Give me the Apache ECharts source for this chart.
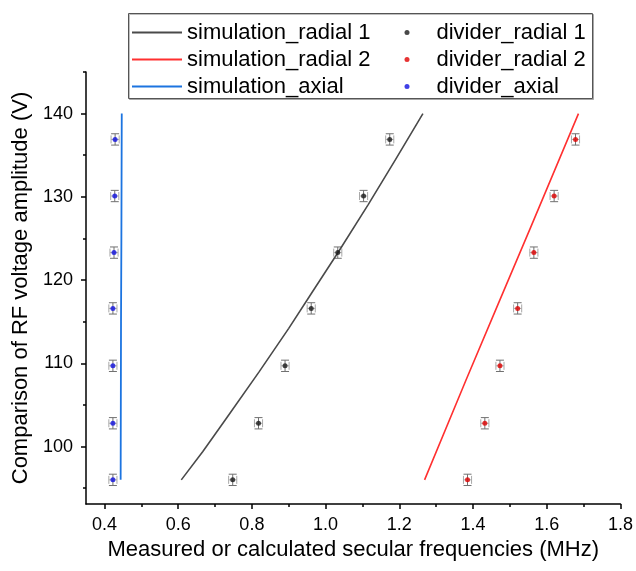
<!DOCTYPE html>
<html>
<head>
<meta charset="utf-8">
<script src="https://cdn.jsdelivr.net/npm/echarts@6/dist/echarts.min.js"></script>
<style>html,body{margin:0;padding:0;background:#fff}#c{width:636px;height:571px}</style>
</head>
<body>
<div id="c"></div>
<script>
// ---- data ----
const voltages = [96, 102.8, 109.7, 116.6, 123.3, 130.1, 136.9];
const dividerRadial1 = [0.748, 0.818, 0.890, 0.961, 1.033, 1.103, 1.174];
const dividerRadial2 = [1.385, 1.432, 1.473, 1.521, 1.565, 1.620, 1.678];
const dividerAxial = [0.423, 0.423, 0.423, 0.423, 0.426, 0.428, 0.429];
const freqErr = 0.011;
const voltErr = 0.68;
const simRadial1 = [[0.6085, 96], [0.667, 99.4], [0.73, 103.35], [0.82, 109.0], [0.90, 114.2], [0.96, 118.3], [1.035, 123.4], [1.116, 129.1], [1.19, 134.5], [1.264, 140]];
const simRadial2 = [[1.2685, 96], [1.381, 108.0], [1.466, 116.9], [1.556, 126.3], [1.686, 140]];
const simAxial = [[0.444, 96], [0.445, 115], [0.446, 125], [0.447, 140]];
const xMajorTicks = [0.4, 0.6, 0.8, 1.0, 1.2, 1.4, 1.6, 1.8];
const xMinorTicks = [0.5, 0.7, 0.9, 1.1, 1.3, 1.5, 1.7];
const yMajorTicks = [100, 110, 120, 130, 140];
const yMinorTicks = [95, 105, 115, 125, 135, 145];

const FONT = '"Liberation Sans", Arial, sans-serif';

function pts(xs) { return xs.map((x, i) => [x, voltages[i], freqErr, voltErr]); }

function errRender(params, api) {
  const x = api.value(0), y = api.value(1), ex = api.value(2), ey = api.value(3);
  const c = api.coord([x, y]);
  const top = api.coord([x, y + ey]);
  const bot = api.coord([x, y - ey]);
  const lft = api.coord([x - ex, y]);
  const rgt = api.coord([x + ex, y]);
  const cw = 4;
  const sV = { stroke: '#707070', lineWidth: 1 };
  const sH = { stroke: '#a8a8a8', lineWidth: 1 };
  return {
    type: 'group',
    children: [
      { type: 'line', shape: { x1: c[0], y1: top[1], x2: c[0], y2: bot[1] }, style: sV },
      { type: 'line', shape: { x1: c[0] - cw, y1: top[1], x2: c[0] + cw, y2: top[1] }, style: sV },
      { type: 'line', shape: { x1: c[0] - cw, y1: bot[1], x2: c[0] + cw, y2: bot[1] }, style: sV },
      { type: 'line', shape: { x1: lft[0], y1: c[1], x2: rgt[0], y2: c[1] }, style: sH },
      { type: 'line', shape: { x1: lft[0], y1: c[1] - cw, x2: lft[0], y2: c[1] + cw }, style: sH },
      { type: 'line', shape: { x1: rgt[0], y1: c[1] - cw, x2: rgt[0], y2: c[1] + cw }, style: sH }
    ]
  };
}

function errSeries(xs) {
  return { type: 'custom', renderItem: errRender, data: pts(xs), z: 1, silent: true,
           encode: { x: 0, y: 1 } };
}

const chart = echarts.init(document.getElementById('c'), null, { renderer: 'canvas' });
chart.setOption({
  animation: false,
  backgroundColor: '#fff',
  textStyle: { fontFamily: FONT },
  grid: { left: 86, right: 12, top: 72, bottom: 67, containLabel: false },
  xAxis: [{
    type: 'value', min: 0.35, max: 1.8,
    name: 'Measured or calculated secular frequencies (MHz)',
    nameLocation: 'middle', nameGap: 33,
    nameTextStyle: { fontSize: 22, color: '#000', fontFamily: FONT },
    axisLine: { show: true, onZero: false, lineStyle: { color: '#000', width: 1.5 } },
    axisTick: { show: true, length: 5, customValues: xMajorTicks, lineStyle: { color: '#000', width: 1.5 } },
    axisLabel: { customValues: xMajorTicks, margin: 12, fontSize: 18, color: '#000', fontFamily: FONT,
                 formatter: v => v.toFixed(1) },
    splitLine: { show: false }
  }, {
    type: 'value', min: 0.35, max: 1.8, position: 'bottom', gridIndex: 0,
    axisLine: { show: false, onZero: false },
    axisTick: { show: true, length: 3, customValues: xMinorTicks, lineStyle: { color: '#000', width: 1.5 } },
    axisLabel: { show: false, customValues: xMinorTicks },
    splitLine: { show: false }
  }],
  yAxis: [{
    type: 'value', min: 93.1, max: 145,
    name: 'Comparison of RF voltage amplitude (V)',
    nameLocation: 'middle', nameGap: 49,
    nameTextStyle: { fontSize: 22, color: '#000', fontFamily: FONT },
    axisLine: { show: true, onZero: false, lineStyle: { color: '#000', width: 1.5 } },
    axisTick: { show: true, length: 5, customValues: yMajorTicks, lineStyle: { color: '#000', width: 1.5 } },
    axisLabel: { customValues: yMajorTicks, margin: 13, fontSize: 18, color: '#000', fontFamily: FONT },
    splitLine: { show: false }
  }, {
    type: 'value', min: 93.1, max: 145, position: 'left', gridIndex: 0,
    axisLine: { show: false, onZero: false },
    axisTick: { show: true, length: 3, customValues: yMinorTicks, lineStyle: { color: '#000', width: 1.5 } },
    axisLabel: { show: false, customValues: yMinorTicks },
    splitLine: { show: false }
  }],
  graphic: [{
    type: 'rect', z: 50, zlevel: 0,
    shape: { x: 128.5, y: 13.5, width: 464, height: 85 },
    style: { fill: '#fff', stroke: '#555', lineWidth: 1, shadowColor: 'rgba(0,0,0,0.25)', shadowOffsetX: 1, shadowOffsetY: 1 }
  }],
  legend: [{
    z: 60, left: 132, top: 19, orient: 'vertical', padding: 0, itemGap: 0,
    itemWidth: 50, itemHeight: 2,
    textStyle: { fontSize: 22, color: '#000', fontFamily: FONT, lineHeight: 27 },
    data: [
      { name: 'simulation_radial 1', icon: 'rect' },
      { name: 'simulation_radial 2', icon: 'rect' },
      { name: 'simulation_axial', icon: 'rect' }
    ]
  }, {
    z: 60, left: 404.5, top: 19, orient: 'vertical', padding: 0, itemGap: 0,
    itemWidth: 5, itemHeight: 5,
    textStyle: { fontSize: 22, color: '#000', fontFamily: FONT, lineHeight: 27, padding: [0, 0, 0, 22] },
    data: ['divider_radial 1', 'divider_radial 2', 'divider_axial']
  }],
  series: [
    { name: 'simulation_radial 1', type: 'line', data: simRadial1, symbol: 'none', smooth: false,
      lineStyle: { color: '#4a4a4a', width: 1.6 }, itemStyle: { color: '#4a4a4a' }, z: 3 },
    { name: 'simulation_radial 2', type: 'line', data: simRadial2, symbol: 'none',
      lineStyle: { color: '#ff3030', width: 1.6 }, itemStyle: { color: '#ff3030' }, z: 3 },
    { name: 'simulation_axial', type: 'line', data: simAxial, symbol: 'none',
      lineStyle: { color: '#1c74e0', width: 1.8 }, itemStyle: { color: '#1c74e0' }, z: 3 },
    errSeries(dividerRadial1),
    errSeries(dividerRadial2),
    errSeries(dividerAxial),
    { name: 'divider_radial 1', type: 'scatter', data: dividerRadial1.map((x, i) => [x, voltages[i]]),
      symbol: 'circle', symbolSize: 5, itemStyle: { color: '#1a1a1a' }, z: 4 },
    { name: 'divider_radial 2', type: 'scatter', data: dividerRadial2.map((x, i) => [x, voltages[i]]),
      symbol: 'circle', symbolSize: 5, itemStyle: { color: '#e00000' }, z: 4 },
    { name: 'divider_axial', type: 'scatter', data: dividerAxial.map((x, i) => [x, voltages[i]]),
      symbol: 'circle', symbolSize: 5, itemStyle: { color: '#1010e0' }, z: 4 }
  ]
});
</script>
</body>
</html>
